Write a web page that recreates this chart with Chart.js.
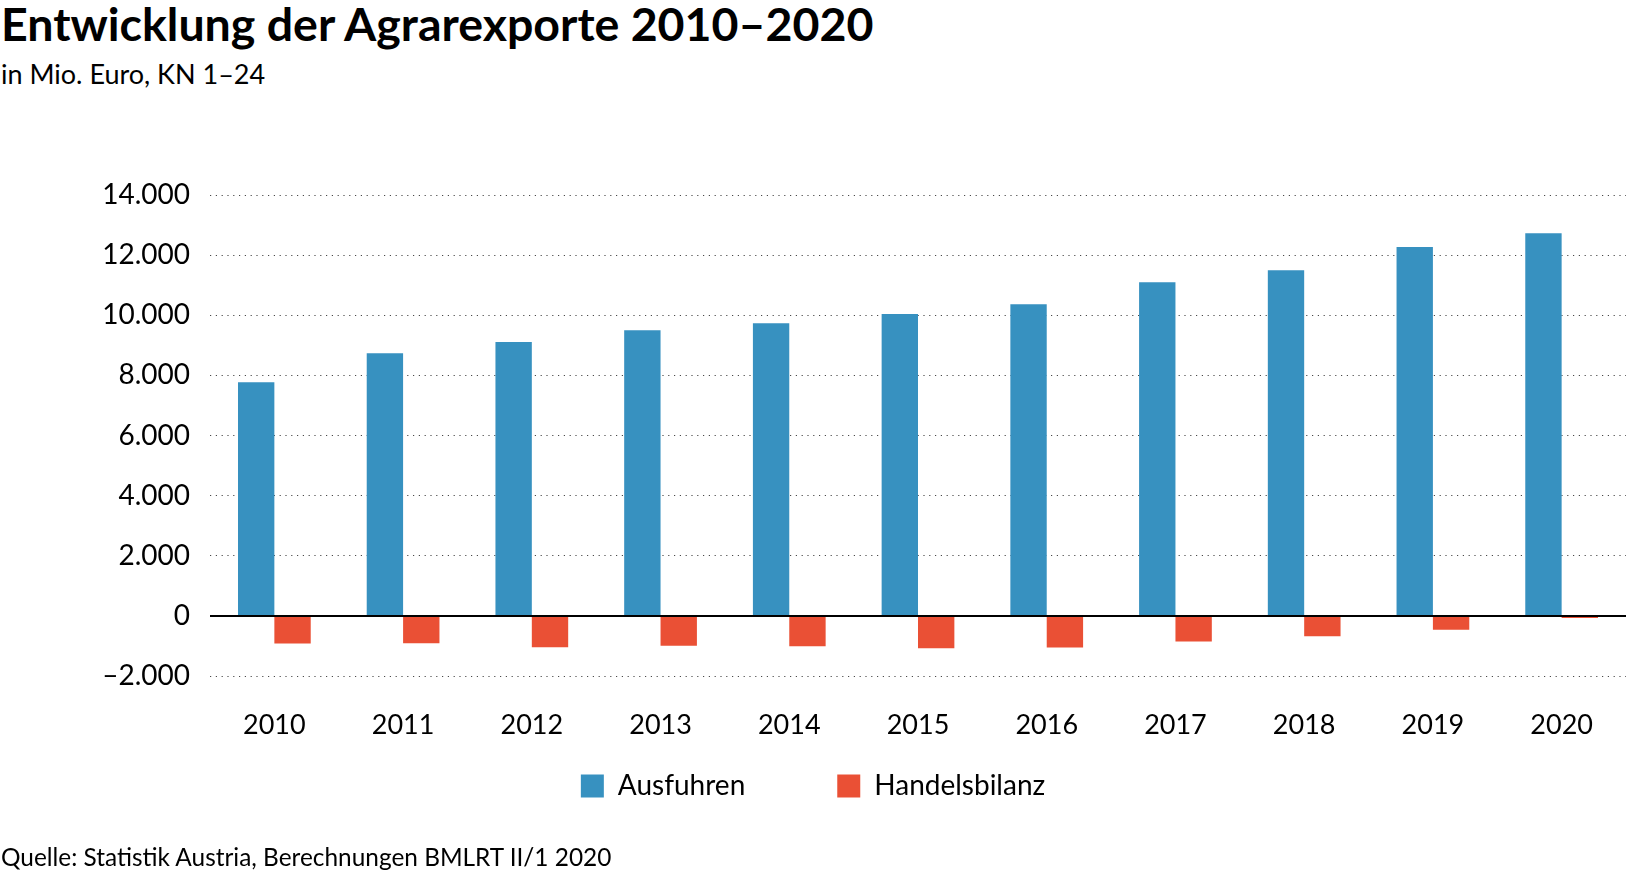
<!DOCTYPE html>
<head>
  <title>Entwicklung der Agrarexporte 2010–2020</title>
  <style>
  * { margin: 0; padding: 0; box-sizing: border-box; }
  body { width: 1629px; height: 875px; background: #fff; position: relative; overflow: hidden; font-family: Lato, "Open Sans", sans-serif; color: #000; }
  h1 { position: absolute; left: 1px; top: -4px; font-size: 46.5px; font-weight: 700; line-height: 1.2; white-space: nowrap; }
  .sub { position: absolute; left: 1px; top: 58px; font-size: 27px; line-height: 1.2; }
  .src { position: absolute; left: 1px; top: 842px; font-size: 24.4px; line-height: 1.2; z-index: 2; }
  #chartBox { position: absolute; left: 0; top: 150px; }
  </style>
</head>
<body>
<h1>Entwicklung der Agrarexporte 2010–2020</h1>
<div class="sub">in Mio. Euro, KN 1–24</div>
<div id="chartBox"><canvas id="agrarChart" width="1629" height="716"></canvas></div>
<div class="src">Quelle: Statistik Austria, Berechnungen BMLRT II/1 2020</div>

<script src="https://cdn.jsdelivr.net/npm/chart.js"></script>
<script>
	// values, Mio. Euro
	const years = ['2010', '2011', '2012', '2013', '2014', '2015', '2016', '2017', '2018', '2019', '2020'];
	const ausfuhren = [7770, 8740, 9110, 9500, 9730, 10040, 10370, 11100, 11500, 12270, 12730];
	const handelsbilanz = [-920, -910, -1040, -990, -1010, -1080, -1050, -850, -680, -460, -70];
	const yTicks = { min: -2000, max: 14000, step: 2000 };

	const fmt = v => {
		const s = String(Math.abs(v)).replace(/\B(?=(\d{3})+(?!\d))/g, '.');
		return v < 0 ? '\u2013' + s : s;
	};

	const legendPad = 92;   // gap between legend items
	const legendY = 636;    // centre line of the legend row, canvas px

	// solid zero line on top of the dotted grid
	const zeroLine = {
		id: 'zeroLine',
		afterDatasetsDraw(chart) {
			const {ctx, chartArea, scales} = chart;
			const y = scales.y.getPixelForValue(0);
			ctx.save();
			ctx.strokeStyle = '#000';
			ctx.lineWidth = 2;
			ctx.beginPath();
			ctx.moveTo(chartArea.left, y);
			ctx.lineTo(chartArea.right, y);
			ctx.stroke();
			ctx.restore();
		}
	};

	// the wide item gap is also used as vertical padding, so pull the row up
	const legendRow = {
		id: 'legendRow',
		afterLayout(chart) {
			const lg = chart.legend;
			const d = lg.top + legendPad + 14 - legendY;
			lg.top -= d;
			lg.bottom -= d;
		}
	};

	Chart.defaults.font.family = 'Lato, "Open Sans", sans-serif';
	Chart.defaults.color = '#000';

	new Chart(
		document.getElementById('agrarChart'),
		{
			type: 'bar',
			data: {
				labels: years,
				datasets: [
					{ label: 'Ausfuhren', data: ausfuhren, backgroundColor: '#3791c0' },
					{ label: 'Handelsbilanz', data: handelsbilanz, backgroundColor: '#ea5035' }
				]
			},
			options: {
				responsive: false,
				animation: false,
				devicePixelRatio: 1,
				layout: { padding: { top: 45, right: 3, left: 0, bottom: 0 } },
				datasets: { bar: { categoryPercentage: 0.565, barPercentage: 1 } },
				scales: {
					x: {
						grid: { display: false, drawTicks: false },
						border: { display: false },
						ticks: { padding: 33, font: { size: 27 } },
						afterFit: s => { s.height = 70; }
					},
					y: {
						min: yTicks.min,
						max: yTicks.max,
						grid: {
							drawTicks: false,
							color: c => c.tick && c.tick.value === 0 ? 'rgba(0,0,0,0)' : '#4a4a4a',
							lineWidth: 1
						},
						border: { display: false, dash: [1.2, 4.6] },
						ticks: { stepSize: yTicks.step, padding: 20, font: { size: 28 }, callback: v => fmt(v) },
						afterFit: s => { s.width = 210; }
					}
				},
				plugins: {
					legend: {
						position: 'bottom',
						maxHeight: 120,
						labels: { boxWidth: 23, boxHeight: 23, padding: legendPad, font: { size: 28 } }
					},
					tooltip: { enabled: false }
				}
			},
			plugins: [zeroLine, legendRow]
		}
	);
</script>
</body>
</html>
